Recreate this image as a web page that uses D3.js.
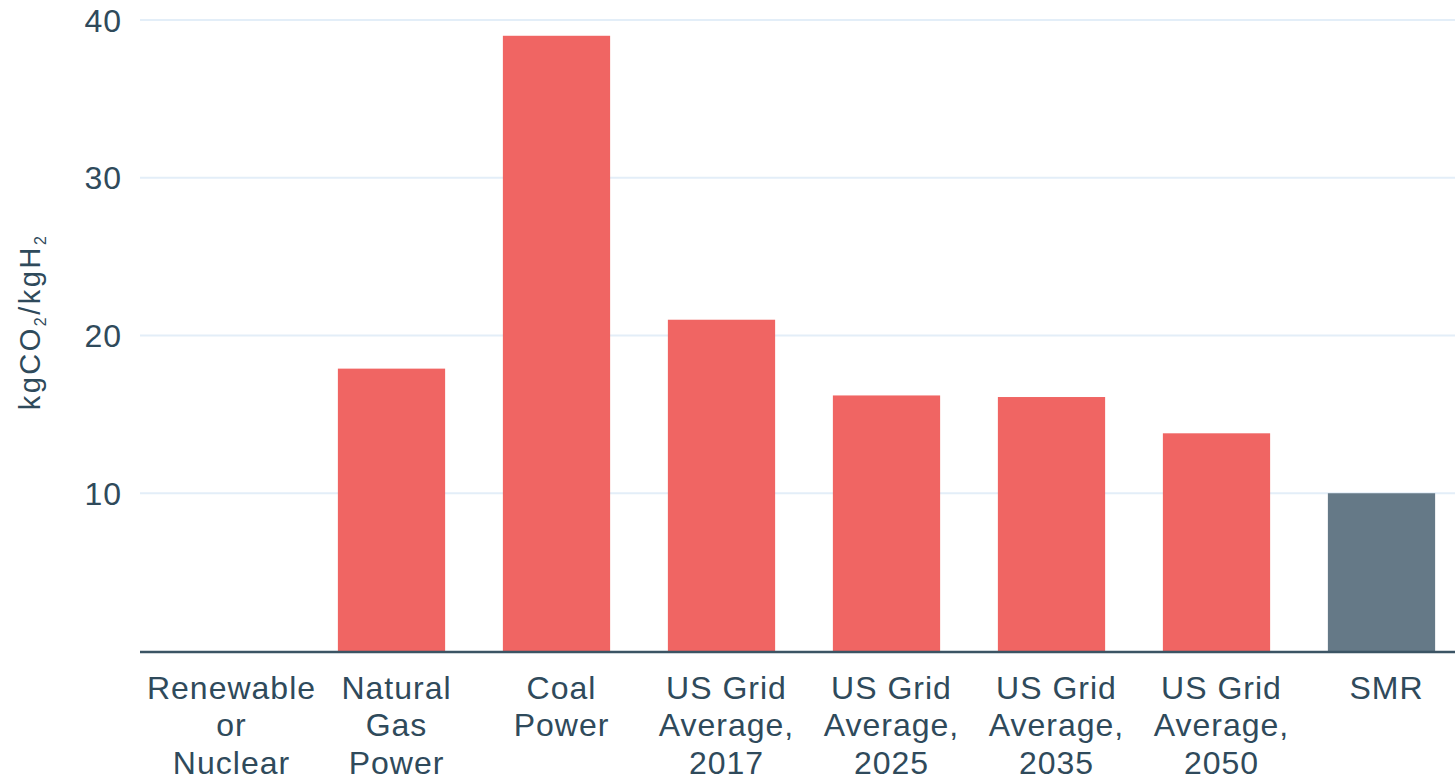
<!DOCTYPE html>
<html lang="en">
<head>
  <meta charset="UTF-8">
  <title>Hydrogen electrolysis emissions</title>
  <script src="https://d3js.org/d3.v7.min.js"></script>
  <style>
    body { margin: 0; background: #fff; }
    svg { display: block; font-family: "Liberation Sans", Arial, sans-serif; }
    .tick-label, .cat-label, .axis-title { fill: #2f4a5b; }
  </style>
</head>
<body>
  <svg width="1455" height="781"></svg>
  <script>
    // data
    const categories = ["Renewable or Nuclear", "Natural Gas Power", "Coal Power",
      "US Grid Average, 2017", "US Grid Average, 2025", "US Grid Average, 2035",
      "US Grid Average, 2050", "SMR"];
    const labelLines = [
      ["Renewable", "or", "Nuclear"],
      ["Natural", "Gas", "Power"],
      ["Coal", "Power"],
      ["US Grid", "Average,", "2017"],
      ["US Grid", "Average,", "2025"],
      ["US Grid", "Average,", "2035"],
      ["US Grid", "Average,", "2050"],
      ["SMR"]
    ];
    const values = [0, 17.9, 39.0, 21.0, 16.2, 16.1, 13.8, 10.0];
    const yTicks = [10, 20, 30, 40];

    const width = 1455, height = 781;
    const margin = { top: 20, right: 0, bottom: 130, left: 140 };
    const baseY = height - margin.bottom;

    const svg = d3.select("svg");

    const x = d3.scaleBand()
      .domain(categories)
      .range([144, 1464])
      .paddingInner(0.35)
      .paddingOuter(0.175);

    const y = d3.scaleLinear()
      .domain([0, 40])
      .range([baseY, margin.top]);

    // gridlines
    svg.append("g")
      .selectAll("line")
      .data(yTicks)
      .enter().append("line")
      .attr("x1", margin.left)
      .attr("x2", width)
      .attr("y1", d => y(d))
      .attr("y2", d => y(d))
      .attr("stroke", "#e3eef8")
      .attr("stroke-width", 2);

    // y tick labels
    svg.append("g")
      .selectAll("text")
      .data(yTicks)
      .enter().append("text")
      .attr("class", "tick-label")
      .attr("x", 122)
      .attr("y", d => y(d))
      .attr("dy", "0.36em")
      .attr("text-anchor", "end")
      .style("font-size", "32px")
      .style("letter-spacing", "1px")
      .text(d => d);

    // bars
    svg.append("g")
      .selectAll("rect")
      .data(values)
      .enter().append("rect")
      .attr("x", (d, i) => x(categories[i]))
      .attr("width", x.bandwidth())
      .attr("y", d => y(d))
      .attr("height", d => baseY - y(d))
      .attr("fill", (d, i) => categories[i] === "SMR" ? "#657987" : "#f06563");

    // baseline
    svg.append("line")
      .attr("x1", margin.left)
      .attr("x2", width)
      .attr("y1", baseY + 1)
      .attr("y2", baseY + 1)
      .attr("stroke", "#3b5464")
      .attr("stroke-width", 2.5);

    // category labels
    const cat = svg.append("g")
      .selectAll("text")
      .data(categories)
      .enter().append("text")
      .attr("class", "cat-label")
      .attr("text-anchor", "middle")
      .attr("x", d => x(d) + x.bandwidth() / 2 + 5)
      .attr("y", 699)
      .style("font-size", "32px")
      .style("letter-spacing", "1px");

    cat.selectAll("tspan")
      .data((d, i) => labelLines[i])
      .enter().append("tspan")
      .attr("x", function () { return d3.select(this.parentNode).attr("x"); })
      .attr("dy", (d, i) => i === 0 ? 0 : 37.3)
      .text(d => d);

    // y axis title
    const title = svg.append("text")
      .attr("class", "axis-title")
      .attr("transform", "translate(40, 322) rotate(-90)")
      .attr("text-anchor", "middle")
      .style("font-size", "29px")
      .style("letter-spacing", "2.5px");
    title.append("tspan").text("kgCO");
    title.append("tspan").attr("dy", 6).style("font-size", "16px").text("2");
    title.append("tspan").attr("dy", -6).text("/kgH");
    title.append("tspan").attr("dy", 6).style("font-size", "16px").text("2");
  </script>
</body>
</html>
